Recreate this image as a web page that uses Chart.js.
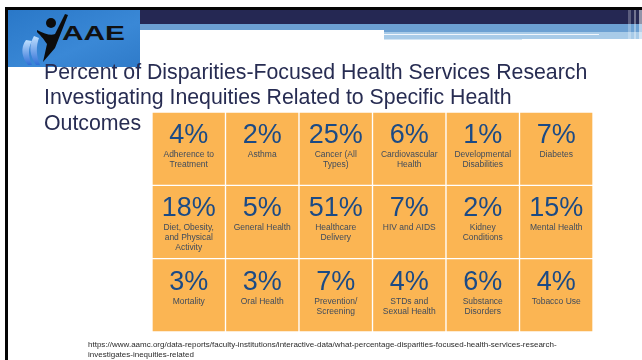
<!DOCTYPE html>
<html>
<head>
<meta charset="utf-8">
<script src="https://cdn.jsdelivr.net/npm/chart.js@4.4.1/dist/chart.umd.min.js"></script>
<style>
  html, body { margin: 0; padding: 0; background: #fff; }
  body { width: 642px; height: 360px; position: relative; overflow: hidden; font-family: "Liberation Sans", Arial, sans-serif; }
  #grid { position: absolute; left: 0; top: 0; }
  .blk { position: absolute; }
  .title { position: absolute; left: 44px; color: #272c52; font-size: 21.3px; white-space: nowrap; line-height: 1; }
  .src { position: absolute; left: 88px; color: #2a2a2a; font-size: 8px; white-space: nowrap; line-height: 1; }
</style>
</head>
<body>
<canvas id="grid" width="642" height="360"></canvas>

<!-- header strips -->
<div class="blk" style="left:5px;top:7px;width:637px;height:3px;background:#050505"></div>
<div class="blk" style="left:5px;top:7px;width:3px;height:353px;background:#050505"></div>
<div class="blk" style="left:140px;top:10px;width:502px;height:14px;background:#252853"></div>
<div class="blk" style="left:140px;top:24px;width:502px;height:6px;background:#6ca0d2"></div>
<div class="blk" style="left:384px;top:30px;width:258px;height:2px;background:#6ca0d2"></div>
<div class="blk" style="left:384px;top:32px;width:258px;height:7px;background:#a8cbe8"></div>
<div class="blk" style="left:384px;top:34px;width:215px;height:1px;background:#f2f7fc"></div>
<div class="blk" style="left:384px;top:39px;width:138px;height:1px;background:#d3e5f4"></div>
<div class="blk" style="left:628px;top:10px;width:3px;height:29px;background:rgba(255,255,255,0.25)"></div>
<div class="blk" style="left:634px;top:10px;width:2px;height:29px;background:rgba(255,255,255,0.35)"></div>
<div class="blk" style="left:639px;top:10px;width:3px;height:29px;background:rgba(255,255,255,0.5)"></div>

<!-- logo -->
<svg class="blk" style="left:8px;top:10px" width="132" height="57" viewBox="0 0 132 57">
  <defs>
    <linearGradient id="bg" x1="0" y1="0" x2="1" y2="1">
      <stop offset="0" stop-color="#2a78c8"/>
      <stop offset="0.6" stop-color="#3a88d6"/>
      <stop offset="1" stop-color="#2f7bc9"/>
    </linearGradient>
    <linearGradient id="fl" x1="0" y1="0" x2="0" y2="1">
      <stop offset="0" stop-color="#bfe0ff"/>
      <stop offset="1" stop-color="#2f6fd6"/>
    </linearGradient>
  </defs>
  <rect x="0" y="0" width="132" height="57" fill="url(#bg)"/>
  <path d="M18 30 C12 38 14 48 20 55 L24 55 C20 46 20 38 24 31 Z" fill="url(#fl)"/>
  <path d="M26 26 C20 36 22 46 28 55 L32 55 C28 45 28 36 31 28 Z" fill="url(#fl)"/>
  <circle cx="43" cy="13" r="5" fill="#0c0c0c"/>
  <path d="M29 20 C37 24 43 26 47 24 L57 4 L60 5 L47 38 L35 52 L39 34 C35 28 32 25 29 22 Z" fill="#0c0c0c"/>
  <text x="54" y="30" font-family="Liberation Sans, Arial, sans-serif" font-size="21" font-weight="bold" fill="#111" textLength="63" lengthAdjust="spacingAndGlyphs">AAE</text>
</svg>

<!-- title -->
<div class="title" style="top:62px">Percent of Disparities-Focused Health Services Research</div>
<div class="title" style="top:87px">Investigating Inequities Related to Specific Health</div>
<div class="title" style="top:113px">Outcomes</div>

<!-- source -->
<div class="src" style="top:341px">https://www.aamc.org/data-reports/faculty-institutions/interactive-data/what-percentage-disparities-focused-health-services-research-</div>
<div class="src" style="top:351px">investigates-inequities-related</div>

<script>
// grid content, read row by row (6 per row)
const topics = [
  ["Adherence to", "Treatment"], ["Asthma"], ["Cancer (All", "Types)"],
  ["Cardiovascular", "Health"], ["Developmental", "Disabilities"], ["Diabetes"],
  ["Diet, Obesity,", "and Physical", "Activity"], ["General Health"], ["Healthcare", "Delivery"],
  ["HIV and AIDS"], ["Kidney", "Conditions"], ["Mental Health"],
  ["Mortality"], ["Oral Health"], ["Prevention/", "Screening"],
  ["STDs and", "Sexual Health"], ["Substance", "Disorders"], ["Tobacco Use"]
];
const shares = [4, 2, 25, 6, 1, 7, 18, 5, 51, 7, 2, 15, 3, 3, 7, 4, 6, 4];
const columns = ["c1", "c2", "c3", "c4", "c5", "c6"];
const rows = [0, 1, 2];

const cellColor = "#fbb553";

// one dataset per row, floating bars [row, row+1] overlapping by column
let datasets = rows.map((r) => {
  return {
    data: columns.map(() => [r, r + 1]),
    backgroundColor: cellColor,
    borderColor: "#ffffff",
    borderWidth: 1,
    borderSkipped: false,
    grouped: false,
    barPercentage: 1,
    categoryPercentage: 1,
  };
});

// writes percent + topic in every cell
const cellText = {
  id: "cellText",
  afterDatasetsDraw(chart) {
    let ctx = chart.ctx;
    ctx.save();
    ctx.textAlign = "center";
    ctx.textBaseline = "alphabetic";
    chart.data.datasets.forEach((ds, r) => {
      let meta = chart.getDatasetMeta(r);
      meta.data.forEach((bar, c) => {
        let i = r * columns.length + c;
        let p = bar.getProps(["x", "y", "base"], true);
        let top = Math.min(p.y, p.base);
        ctx.fillStyle = "#1b4a85";
        ctx.font = '27px "Liberation Sans", Arial, sans-serif';
        ctx.fillText(shares[i] + "%", p.x, top + 31);
        ctx.fillStyle = "#3f4b5c";
        ctx.font = '8.5px "Liberation Sans", Arial, sans-serif';
        topics[i].forEach((line, k) => {
          ctx.fillText(line, p.x, top + 45 + k * 10);
        });
      });
    });
    ctx.restore();
  },
};

new Chart(document.getElementById("grid"), {
  type: "bar",
  data: { labels: columns, datasets: datasets },
  options: {
    responsive: false,
    animation: false,
    layout: { padding: { left: 152, right: 49, top: 112, bottom: 28 } },
    plugins: { legend: { display: false }, tooltip: { enabled: false } },
    scales: {
      x: { display: false },
      y: { display: false, min: 0, max: 3, reverse: true },
    },
  },
  plugins: [cellText],
});
</script>
</body>
</html>
